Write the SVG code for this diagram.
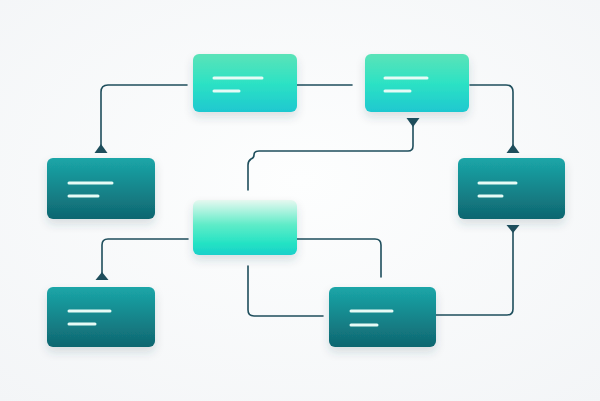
<svg xmlns="http://www.w3.org/2000/svg" width="600" height="401" viewBox="0 0 600 401">
  <defs>
    <radialGradient id="bg" cx="50%" cy="45%" r="75%">
      <stop offset="0" stop-color="#fdfefe"/>
      <stop offset="1" stop-color="#f3f5f7"/>
    </radialGradient>
    <linearGradient id="light" x1="0" y1="0" x2="0" y2="1">
      <stop offset="0" stop-color="#5be3b8"/>
      <stop offset="0.5" stop-color="#2de2c4"/>
      <stop offset="1" stop-color="#1ec8d0"/>
    </linearGradient>
    <linearGradient id="pale" x1="0" y1="0" x2="0" y2="1">
      <stop offset="0" stop-color="#e6f8f0"/>
      <stop offset="0.45" stop-color="#5fecc8"/>
      <stop offset="0.8" stop-color="#22e2c4"/>
      <stop offset="1" stop-color="#1cd0ca"/>
    </linearGradient>
    <linearGradient id="dark" x1="0" y1="0" x2="0" y2="1">
      <stop offset="0" stop-color="#1ba6a8"/>
      <stop offset="1" stop-color="#0f6670"/>
    </linearGradient>
    <filter id="sh" x="-30%" y="-30%" width="160%" height="180%">
      <feDropShadow dx="0" dy="5" stdDeviation="5" flood-color="#2a4a55" flood-opacity="0.16"/>
    </filter>
    <style>
      .lightnode { fill: url(#light); filter: url(#sh); }
      .palenode { fill: url(#pale); filter: url(#sh); }
      .darknode { fill: url(#dark); filter: url(#sh); }
      .bar { stroke: #e6fbf6; stroke-width: 3; stroke-linecap: round; }
      .wire { fill: none; stroke: #1e4e5c; stroke-width: 1.6; stroke-linecap: round; stroke-linejoin: round; }
      .head { fill: #1e4e5c; }
    </style>
  </defs>

  <rect width="600" height="401" fill="url(#bg)"/>

  <g id="connectors">
    <path class="wire" d="M187,85 H108 Q101,85 101,92 V148"/>
    <path class="head" d="M101,144 L107.5,153 H94.5 Z"/>
    <path class="wire" d="M297,85 H352"/>
    <path class="wire" d="M470,85 H506 Q513,85 513,92 V148"/>
    <path class="head" d="M513,144 L519.5,153 H506.5 Z"/>
    <path class="head" d="M406.5,118 H419.5 L413,127 Z"/>
    <path class="wire" d="M413,124 V146 Q413,151 408,151 H259 Q254,151 254,155 Q254,158 251,159 Q248,161 248,165 V190"/>
    <path class="wire" d="M188,239 H108 Q102,239 102,245 V276"/>
    <path class="head" d="M102,272 L108.5,280 H95.5 Z"/>
    <path class="wire" d="M248,266 V310 Q248,316 254,316 H323"/>
    <path class="wire" d="M297,239 H375 Q381,239 381,245 V277" stroke="#2a6f80"/>
    <path class="wire" d="M436,315 H507 Q513,315 513,309 V230"/>
    <path class="head" d="M506.5,225 H519.5 L513,233 Z"/>
  </g>

  <g id="node-top-left">
    <rect class="lightnode" x="193" y="54" width="104" height="58" rx="6"/>
    <line class="bar" x1="214" y1="78" x2="262" y2="78"/>
    <line class="bar" x1="214" y1="91" x2="239" y2="91"/>
  </g>
  <g id="node-top-right">
    <rect class="lightnode" x="365" y="54" width="104" height="58" rx="6"/>
    <line class="bar" x1="385" y1="78" x2="427" y2="78"/>
    <line class="bar" x1="385" y1="91" x2="410" y2="91"/>
  </g>
  <g id="node-left">
    <rect class="darknode" x="47" y="158" width="108" height="61" rx="6"/>
    <line class="bar" x1="69" y1="183" x2="112" y2="183"/>
    <line class="bar" x1="69" y1="196" x2="98" y2="196"/>
  </g>
  <g id="node-right">
    <rect class="darknode" x="458" y="158" width="107" height="61" rx="6"/>
    <line class="bar" x1="479" y1="183" x2="516" y2="183"/>
    <line class="bar" x1="479" y1="196" x2="502" y2="196"/>
  </g>
  <g id="node-center">
    <rect class="palenode" x="193" y="200" width="104" height="55" rx="6"/>
  </g>
  <g id="node-bottom-left">
    <rect class="darknode" x="47" y="287" width="108" height="60" rx="6"/>
    <line class="bar" x1="69" y1="311" x2="110" y2="311"/>
    <line class="bar" x1="69" y1="324" x2="95" y2="324"/>
  </g>
  <g id="node-bottom-right">
    <rect class="darknode" x="329" y="287" width="107" height="60" rx="6"/>
    <line class="bar" x1="351" y1="311" x2="392" y2="311"/>
    <line class="bar" x1="351" y1="325" x2="377" y2="325"/>
  </g>
</svg>
